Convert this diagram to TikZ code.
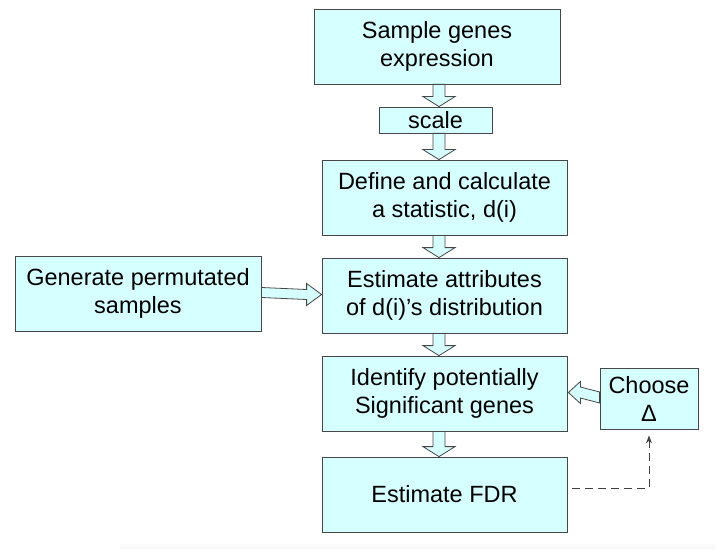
\documentclass[tikz,border=0pt]{standalone}
\usepackage{fontspec}
\setmainfont{Liberation Sans}
\usetikzlibrary{calc,arrows.meta}
\definecolor{boxfill}{RGB}{214,255,255}
\definecolor{boxline}{RGB}{70,70,70}
\tikzset{
  box/.style={draw=boxline, line width=0.8pt, fill=boxfill, inner sep=0pt,
    align=center, font=\fontsize{23.5}{28}\selectfont},
  barrow/.style={draw=boxline, line width=0.8pt, fill=boxfill, line join=miter},
  dasharrow/.style={draw=black!75, line width=0.9pt, dash pattern=on 8pt off 5pt,
    -{Stealth[length=8pt,width=6pt]}}
}
\newcommand\vblockarrow[3]{% from node #1 down to node #2 at x coordinate #3
  \draw[barrow] ($(#1.south -| #3)+(-6,0)$) -- ($(#2.north -| #3)+(-6,10)$)
    -- ($(#2.north -| #3)+(-16,10)$) -- (#2.north -| #3)
    -- ($(#2.north -| #3)+(16,10)$) -- ($(#2.north -| #3)+(6,10)$)
    -- ($(#1.south -| #3)+(6,0)$) -- cycle;}
\begin{document}
\begin{tikzpicture}[x=1pt,y=1pt]
\useasboundingbox (0,0) rectangle (715,550);
\fill[black!2] (120,0) rectangle (715,6);
\coordinate (ax) at (439,0);
\node[box, minimum width=246pt, minimum height=75pt] (sample) at (437,503.5) {Sample genes\\expression};
\node[box, minimum width=113pt, minimum height=26pt] (scale) at (435.5,430) {scale};
\node[box, minimum width=245pt, minimum height=75pt] (define) at (444.5,352.5) {Define and calculate\\a statistic, d(i)};
\node[box, minimum width=245pt, minimum height=75pt] (estimate) at (444.5,254.5) {Estimate attributes\\of d(i)’s distribution};
\node[box, minimum width=246pt, minimum height=75pt] (generate) at (138,256.5) {Generate permutated\\samples};
\node[box, minimum width=245pt, minimum height=75pt] (identify) at (444.5,156.5) {Identify potentially\\Significant genes};
\node[box, minimum width=245pt, minimum height=75pt] (fdr) at (444.5,55.5) {Estimate FDR};
\node[box, minimum width=98pt, minimum height=61pt] (choose) at (649,151.5) {Choose\\Δ};
\vblockarrow{sample}{scale}{ax}
\vblockarrow{scale}{define}{ax}
\vblockarrow{define}{estimate}{ax}
\vblockarrow{estimate}{identify}{ax}
\vblockarrow{identify}{fdr}{ax}
% Generate -> Estimate
\draw[barrow] ($(generate.east)+(0,6)$) -- ($(estimate.west)+(-15,6)$) -- ($(estimate.west)+(-15,12)$)
  -- ($(estimate.west)+(0,1)$) -- ($(estimate.west)+(-15,-10)$) -- ($(estimate.west)+(-15,-4)$)
  -- ($(generate.east)+(0,-4)$) -- cycle;
% Choose -> Identify
\draw[barrow] ($(choose.west)+(0,6.5)$) -- ($(identify.east)+(13,6.5)$) -- ($(identify.east)+(13,12)$)
  -- ($(identify.east)+(1,1)$) -- ($(identify.east)+(13,-10)$) -- ($(identify.east)+(13,-4.5)$)
  -- ($(choose.west)+(0,-4.5)$) -- cycle;
% dashed feedback
\coordinate (dstart) at ($(fdr.east)+(5,6.5)$);
\draw[dasharrow] (dstart) -- (dstart -| choose.south) -- ($(choose.south)+(0,-6)$);
\end{tikzpicture}
\end{document}
